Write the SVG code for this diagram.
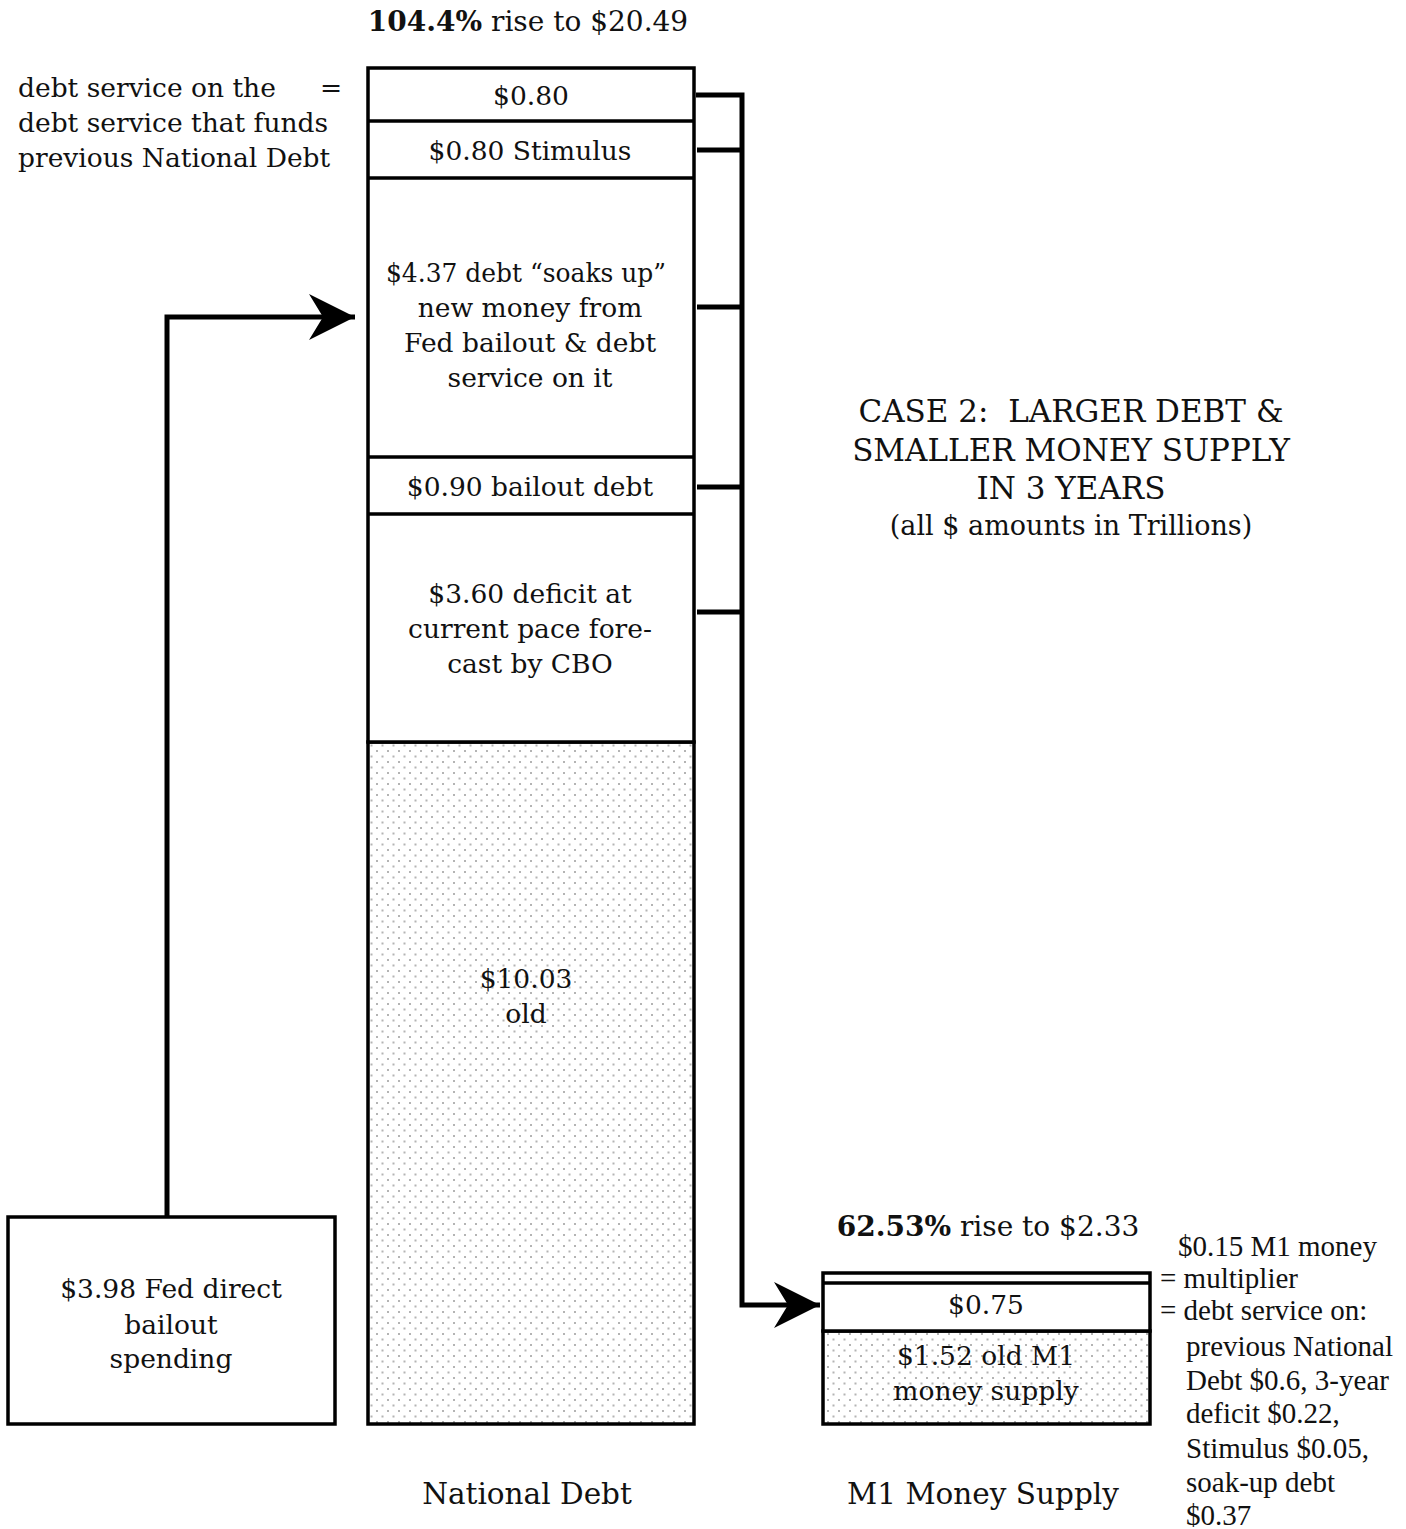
<svg xmlns="http://www.w3.org/2000/svg" width="1406" height="1529" viewBox="0 0 1406 1529">
<style>
text{font-family:"DejaVu Serif","Liberation Serif",serif;font-size:26.5px;fill:#111;white-space:pre}
.c{text-anchor:middle}
.b{font-weight:bold}
.h{font-size:28px}
.lab{font-size:29.5px}
.ti{font-size:31px}
.t{font-family:"Liberation Serif","Times New Roman",serif;font-size:29px}
.box{fill:#fff;stroke:#000;stroke-width:3.5}
.dot{fill:url(#dots);stroke:#000;stroke-width:3.5}
.ln{stroke:#000;stroke-width:3.5;fill:none}
.cn{stroke:#000;stroke-width:5;fill:none}
</style>
<defs>
<pattern id="dots" patternUnits="userSpaceOnUse" width="11" height="11">
<rect width="11" height="11" fill="#fff"/>
<rect x="2" y="2" width="2" height="2" fill="#b4b4b4"/>
<rect x="7.5" y="7.5" width="2" height="2" fill="#b4b4b4"/>
</pattern>
<marker id="ah" markerUnits="userSpaceOnUse" markerWidth="50" markerHeight="50" refX="46" refY="23" orient="auto" viewBox="0 0 50 46">
<path d="M0,0 L46,23 L0,46 L14,23 Z" fill="#000"/>
</marker>
</defs>
<text x="528" y="31" class="c h"><tspan class="b">104.4%</tspan> rise to $20.49</text>
<g id="note-left">
<text x="18" y="97">debt service on the</text>
<text x="320" y="97">=</text>
<text x="18" y="132">debt service that funds</text>
<text x="18" y="167">previous National Debt</text>
</g>
<g id="national-debt">
<rect x="368" y="742" width="326" height="682" class="dot"/>
<rect x="368" y="68" width="326" height="674" class="box"/>
<line x1="368" y1="121" x2="694" y2="121" class="ln"/>
<line x1="368" y1="178" x2="694" y2="178" class="ln"/>
<line x1="368" y1="457" x2="694" y2="457" class="ln"/>
<line x1="368" y1="514" x2="694" y2="514" class="ln"/>
<text x="531" y="105" class="c">$0.80</text>
<text x="530" y="160" class="c">$0.80 Stimulus</text>
<text x="526" y="282" class="c" textLength="280" lengthAdjust="spacingAndGlyphs">$4.37 debt “soaks up”</text>
<text x="530" y="317" class="c">new money from</text>
<text x="530" y="352" class="c">Fed bailout &amp; debt</text>
<text x="530" y="387" class="c">service on it</text>
<text x="530" y="496" class="c">$0.90 bailout debt</text>
<text x="530" y="603" class="c">$3.60 deficit at</text>
<text x="530" y="638" class="c">current pace fore-</text>
<text x="530" y="673" class="c">cast by CBO</text>
<text x="526" y="988" class="c">$10.03</text>
<text x="526" y="1023" class="c">old</text>
<text x="527" y="1504" class="c lab">National Debt</text>
</g>
<g id="title">
<text x="1071" y="422" class="c ti">CASE 2:  LARGER DEBT &amp;</text>
<text x="1071" y="461" class="c ti">SMALLER MONEY SUPPLY</text>
<text x="1071" y="499" class="c ti">IN 3 YEARS</text>
<text x="1071" y="535" class="c" style="font-size:27px">(all $ amounts in Trillions)</text>
</g>
<g id="m1">
<text x="988" y="1236" class="c h"><tspan class="b">62.53%</tspan> rise to $2.33</text>
<rect x="823" y="1331" width="327" height="93" class="dot"/>
<rect x="823" y="1273" width="327" height="58" class="box"/>
<line x1="823" y1="1283" x2="1150" y2="1283" class="ln"/>
<text x="986" y="1314" class="c">$0.75</text>
<text x="986" y="1365" class="c">$1.52 old M1</text>
<text x="986" y="1400" class="c">money supply</text>
<text x="983" y="1504" class="c lab">M1 Money Supply</text>
</g>
<g id="note-right">
<text x="1178" y="1256" class="t">$0.15 M1 money</text>
<text x="1160" y="1288" class="t">= multiplier</text>
<text x="1160" y="1320" class="t">= debt service on:</text>
<text x="1186" y="1356" class="t">previous National</text>
<text x="1186" y="1390" class="t">Debt $0.6, 3-year</text>
<text x="1186" y="1423" class="t">deficit $0.22,</text>
<text x="1186" y="1458" class="t">Stimulus $0.05,</text>
<text x="1186" y="1492" class="t">soak-up debt</text>
<text x="1186" y="1525" class="t">$0.37</text>
</g>
<g id="fed-bailout">
<rect x="8" y="1217" width="327" height="207" class="box"/>
<text x="171" y="1298" class="c">$3.98 Fed direct</text>
<text x="171" y="1334" class="c">bailout</text>
<text x="171" y="1368" class="c">spending</text>
</g>
<g id="connectors">
<polyline points="167,1217 167,317 355,317" class="cn" marker-end="url(#ah)"/>
<polyline points="696,95 742,95 742,1305 820,1305" class="cn" marker-end="url(#ah)"/>
<line x1="697" y1="150" x2="742" y2="150" class="cn"/>
<line x1="697" y1="307" x2="740" y2="307" class="cn"/>
<line x1="697" y1="487" x2="742" y2="487" class="cn"/>
<line x1="697" y1="612" x2="740" y2="612" class="cn"/>
</g>
</svg>
